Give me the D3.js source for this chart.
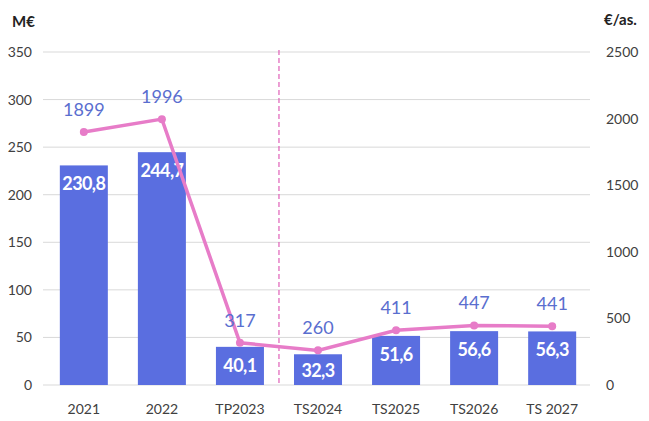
<!DOCTYPE html>
<html><head><meta charset="utf-8">
<script src="https://cdn.jsdelivr.net/npm/d3@7"></script>
<style>body{margin:0;background:#fff}svg{display:block}</style>
</head><body>
<svg id="c" width="649" height="421"></svg>
<script>
const categories = ["2021","2022","TP2023","TS2024","TS2025","TS2026","TS 2027"];
const barValues = [230.8, 244.7, 40.1, 32.3, 51.6, 56.6, 56.3];
const lineValues = [1899, 1996, 317, 260, 411, 447, 441];
const leftTicks = [0,50,100,150,200,250,300,350];
const rightTicks = [0,500,1000,1500,2000,2500];

const svg = d3.select("#c");
const font = "Lato,'Open Sans',sans-serif";
const x = d3.scaleBand().domain(categories).range([45,591]).paddingInner(0.385).paddingOuter(0.19);
const y = d3.scaleLinear().domain([0,350]).range([385,52]);
const y2 = d3.scaleLinear().domain([0,2500]).range([385,52]);

// grid
svg.append("g").selectAll("line").data(leftTicks).join("line")
  .attr("x1",43).attr("x2",590).attr("y1",d=>y(d)).attr("y2",d=>y(d))
  .attr("stroke","#d9d9d9").attr("stroke-width",1);

// left axis
const la = svg.append("g").attr("transform","translate(36,0)")
  .call(d3.axisLeft(y).tickValues(leftTicks).tickSize(0).tickPadding(4));
la.select(".domain").remove();
la.selectAll("text").attr("font-family",font).attr("font-size",14).attr("fill","#404040");

// right axis
const ra = svg.append("g").attr("transform","translate(602,0)")
  .call(d3.axisRight(y2).tickValues(rightTicks).tickFormat(d3.format("d")).tickSize(0).tickPadding(4));
ra.select(".domain").remove();
ra.selectAll("text").attr("font-family",font).attr("font-size",14).attr("fill","#404040");

// x axis
const xa = svg.append("g").attr("transform","translate(0,400)")
  .call(d3.axisBottom(x).tickSize(0).tickPadding(4));
xa.select(".domain").remove();
xa.selectAll("text").attr("font-family",font).attr("font-size",14).attr("fill","#404040");

// titles
svg.append("text").attr("x",12).attr("y",27).text("M€")
  .attr("font-family",font).attr("font-size",15).attr("font-weight","bold").attr("fill","#222");
svg.append("text").attr("x",604).attr("y",25).text("€/as.")
  .attr("font-family",font).attr("font-size",15).attr("font-weight","bold").attr("fill","#222");

// bars
svg.append("g").selectAll("rect").data(barValues).join("rect")
  .attr("x",(d,i)=>x(categories[i])).attr("width",x.bandwidth())
  .attr("y",d=>y(d)).attr("height",d=>y(0)-y(d)).attr("fill","#5a6ee0");

// dashed divider
const divX = (x(categories[2])+x.bandwidth()+x(categories[3]))/2;
svg.append("line").attr("x1",divX).attr("x2",divX).attr("y1",50).attr("y2",385)
  .attr("stroke","#e060b8").attr("stroke-width",1.2).attr("stroke-dasharray","5,3");

// bar labels
svg.append("g").selectAll("text").data(barValues).join("text")
  .attr("x",(d,i)=>x(categories[i])+x.bandwidth()/2)
  .attr("y",d=>Math.min(y(d)+25, 377))
  .attr("text-anchor","middle").attr("font-family",font).attr("font-size",18)
  .attr("letter-spacing","-0.6").attr("font-weight","bold").attr("fill","#fff")
  .text(d=>d3.format(".1f")(d).replace(".",","));

// line
const cx = (d,i)=>x(categories[i])+x.bandwidth()/2;
svg.append("path").datum(lineValues)
  .attr("d",d3.line().x(cx).y(d=>y2(d)))
  .attr("fill","none").attr("stroke","#e77cc8").attr("stroke-width",3.5);
svg.append("g").selectAll("circle").data(lineValues).join("circle")
  .attr("cx",cx).attr("cy",d=>y2(d)).attr("r",4).attr("fill","#e77cc8");

// line labels
svg.append("g").selectAll("text").data(lineValues).join("text")
  .attr("x",cx).attr("y",d=>y2(d)-16)
  .attr("text-anchor","middle").attr("font-family",font).attr("font-size",18)
  .attr("fill","#5a6ecf").text(d=>d);
</script>
</body></html>
